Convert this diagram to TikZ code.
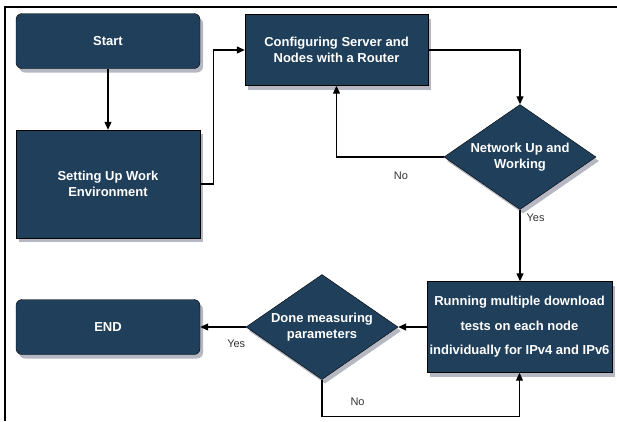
\documentclass[tikz,border=0pt]{standalone}
\usepackage{fontspec}
\usetikzlibrary{arrows.meta,shapes.geometric,shadows}
\setmainfont{Liberation Sans}
\definecolor{fcnavy}{HTML}{203F5A}
\definecolor{fcshade}{HTML}{A3A6B4}
\definecolor{fclabel}{HTML}{333333}

\begin{document}
\begin{tikzpicture}[x=1pt,y=-1pt,
  box/.style={draw=black,fill=fcnavy,text=white,align=center,inner sep=2pt,
    font=\fontsize{13}{16.5}\selectfont\bfseries,
    drop shadow={shadow xshift=3pt,shadow yshift=-4pt,fill=fcshade,opacity=.8}},
  term/.style={box,rounded corners=6pt,minimum width=184pt,minimum height=55pt},
  proc/.style={box,minimum width=184pt},
  dec/.style={box,shape=diamond,shape aspect=1.45,inner sep=0pt,minimum width=152pt,minimum height=105pt},
  arr/.style={-{Triangle[length=8pt,width=7pt]},color=black,line width=1.1pt},
  lbl/.style={font=\fontsize{11}{13}\selectfont,text=fclabel,inner sep=3pt}]
\useasboundingbox (0,0) rectangle (617,421);
% frame
\draw[line width=2pt] (617,7) -- (5,7) -- (5,421);
% blocks
\node[term] (start) at (108,41) {Start};
\node[proc,minimum height=108pt] (setup) at (108,184) {Setting Up Work\\Environment};
\node[proc,minimum width=183pt,minimum height=71pt] (config) at (336.5,50) {Configuring Server and\\Nodes with a Router};
\node[dec] (net) at (520,157) {Network Up and\\Working};
\node[proc,minimum width=185pt,minimum height=91pt] (run) at (519.5,327) {Running multiple download\\[8pt]tests on each node\\[8pt]individually for IPv4 and IPv6};
\node[dec] (done) at (322,327) {Done measuring\\parameters};
\node[term] (end) at (108,327) {END};
% connectors
\draw[arr] (start) -- (setup);
\draw[arr] (setup.east) -- ++(13,0) |- (config.west);
\draw[arr] (config.east) -| (net.north);
\draw[arr] (net.west) -| node[lbl,pos=0.2,below=11.5pt] (no1) {No} (config.south);
\draw[arr] (net.south) -- node[lbl,pos=0.11,right=3pt] (yes1) {Yes} (net.south |- run.north);
\draw[arr] (run.west) -- (done.east);
\draw[arr] (done.west) -- node[lbl,pos=0.21,below=9.5pt] (yes2) {Yes} (end.east);
\draw[arr] (done.south) -- ++(0,37) -| node[lbl,pos=0.09,above=7.5pt] (no2) {No} (run.south);
\end{tikzpicture}
\end{document}
